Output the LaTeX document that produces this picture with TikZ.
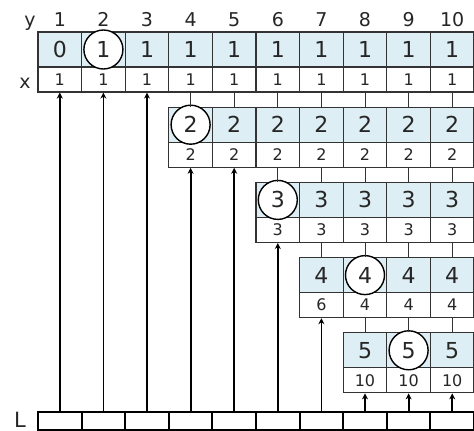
\documentclass[tikz,border=0pt]{standalone}
\usepackage{fontspec}
\setmainfont{DejaVu Sans}
\usetikzlibrary{arrows.meta}
\definecolor{cellblue}{RGB}{221,238,244}
\definecolor{lineg}{RGB}{51,51,51}

\begin{document}
\begin{tikzpicture}[x=1pt, y=-1pt,
  valcell/.style={rectangle, draw=lineg, line width=1.2pt, fill=cellblue, minimum width=43.6pt, minimum height=35pt, inner sep=0pt, text=black!85, font=\fontsize{22}{22}\selectfont},
  xcell/.style={rectangle, draw=lineg, line width=1.2pt, fill=white, minimum width=43.6pt, minimum height=25pt, inner sep=0pt, text=black!85, font=\fontsize{16}{16}\selectfont},
  ring/.style={circle, draw=black, line width=1.4pt, fill=white, minimum size=39pt, inner sep=0pt, text=black!85, font=\fontsize{22}{22}\selectfont},
  lcell/.style={rectangle, draw=black, line width=2pt, minimum width=43.6pt, minimum height=18pt, inner sep=0pt},
  label/.style={anchor=base, text=black!85, font=\fontsize{19}{19}\selectfont},
  link/.style={draw=lineg, line width=0.9pt},
  arrow/.style={-{Stealth[length=6pt, width=6pt]}, line width=1.8pt}
]
  \useasboundingbox (0,0) rectangle (474,431);

  % header
  \node[label] (ylab) at (30,27) {y};
  \foreach \c in {1,...,10}
    \node[label] (h\c) at ({16.2+43.6*\c},27) {\c};
  \node[label] (xlab) at (25,88) {x};

  % row 1
  \foreach \v [count=\c from 1] in {0,{},1,1,1,1,1,1,1,1}
    \node[valcell] (v1-\c) at ({16.2+43.6*\c},49.5) {\v};
  \foreach \v [count=\c from 1] in {1,1,1,1,1,1,1,1,1,1}
    \node[xcell] (x1-\c) at ({16.2+43.6*\c},79.5) {\v};

  % row 2
  \foreach \v [count=\c from 4] in {{},2,2,2,2,2,2}
    \node[valcell] (v2-\c) at ({16.2+43.6*\c},124.7) {\v};
  \foreach \v [count=\c from 4] in {2,2,2,2,2,2,2}
    \node[xcell] (x2-\c) at ({16.2+43.6*\c},154.7) {\v};

  % row 3
  \foreach \v [count=\c from 6] in {{},3,3,3,3}
    \node[valcell] (v3-\c) at ({16.2+43.6*\c},199.9) {\v};
  \foreach \v [count=\c from 6] in {3,3,3,3,3}
    \node[xcell] (x3-\c) at ({16.2+43.6*\c},229.9) {\v};

  % row 4
  \foreach \v [count=\c from 7] in {4,{},4,4}
    \node[valcell] (v4-\c) at ({16.2+43.6*\c},275.1) {\v};
  \foreach \v [count=\c from 7] in {6,4,4,4}
    \node[xcell] (x4-\c) at ({16.2+43.6*\c},305.1) {\v};

  % row 5
  \foreach \v [count=\c from 8] in {5,{},5}
    \node[valcell] (v5-\c) at ({16.2+43.6*\c},350.3) {\v};
  \foreach \v [count=\c from 8] in {10,10,10}
    \node[xcell] (x5-\c) at ({16.2+43.6*\c},380.3) {\v};

  % circled entries
  \node[ring] (r1) at (v1-2) {1};
  \node[ring] (r2) at (v2-4) {2};
  \node[ring] (r3) at (v3-6) {3};
  \node[ring] (r4) at (v4-8) {4};
  \node[ring] (r5) at (v5-9) {5};

  % links between rows
  \foreach \c in {4,...,10} \draw[link] (x1-\c.south) -- (v2-\c.north);
  \foreach \c in {6,...,10} \draw[link] (x2-\c.south) -- (v3-\c.north);
  \foreach \c in {7,...,10} \draw[link] (x3-\c.south) -- (v4-\c.north);
  \foreach \c in {8,...,10} \draw[link] (x4-\c.south) -- (v5-\c.north);

  % L array
  \node[anchor=base, text=black!85, font=\fontsize{21}{21}\selectfont] (Llab) at (20,427) {L};
  \foreach \c in {1,...,10}
    \node[lcell] (L\c) at ({16.2+43.6*\c},421) {};

  \foreach \c/\r in {1/1,2/1,3/1,4/2,5/2,6/3,7/4,8/5,9/5,10/5}
    \draw[arrow] (L\c.north) -- (x\r-\c.south);
\end{tikzpicture}
\end{document}
